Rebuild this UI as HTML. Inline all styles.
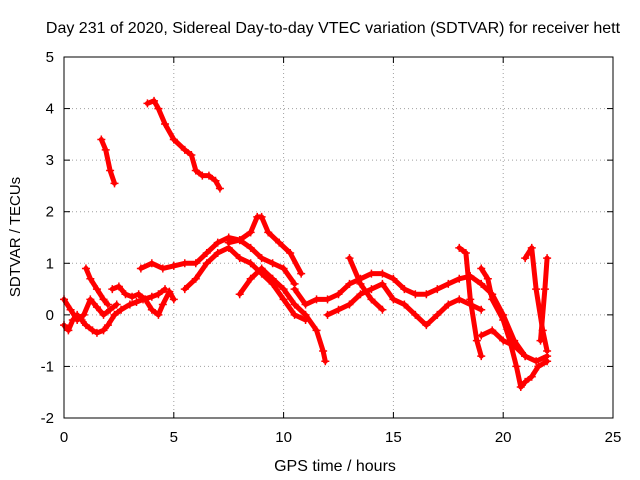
<!DOCTYPE html>
<html><head><meta charset="utf-8"><style>
html,body{margin:0;padding:0;background:#fff;}
svg{display:block;font-family:"Liberation Sans",sans-serif;}
</style></head><body>
<svg id="chart" width="640" height="480">
<rect width="640" height="480" fill="#fff"/>
<g id="grid"></g>
<g id="axes"></g>
<g id="marks"></g>
<rect x="64" y="57" width="549" height="361" fill="none" stroke="#000" stroke-width="1"/>
<text x="333" y="33" text-anchor="middle" font-size="16" fill="#000">Day 231 of 2020, Sidereal Day-to-day VTEC variation (SDTVAR) for receiver hett</text>
<text x="335" y="471" text-anchor="middle" font-size="16" fill="#000">GPS time / hours</text>
<text transform="translate(20,237) rotate(-90)" text-anchor="middle" font-size="15" fill="#000">SDTVAR / TECUs</text>
</svg>
<script>
const xTicks=[0,5,10,15,20,25];
const yTicks=[-2,-1,0,1,2,3,4,5];
const tracks=[
[[0,-0.2],[0.2,-0.3],[0.4,-0.1],[0.6,0.0],[0.8,-0.1],[1.0,-0.2],[1.3,-0.3],[1.5,-0.35],[1.8,-0.3],[2.0,-0.2],[2.3,0.0],[2.6,0.1],[3,0.2],[3.3,0.25],[3.6,0.3],[4,0.35],[4.3,0.4],[4.6,0.5]],
[[0,0.3],[0.3,0.1],[0.6,-0.1],[0.9,0.0],[1.2,0.3],[1.5,0.15],[1.8,0.0],[2.1,0.1],[2.4,0.2]],
[[1,0.9],[1.2,0.7],[1.5,0.5],[1.8,0.3],[2,0.2]],
[[2.2,0.5],[2.5,0.55],[2.8,0.4],[3.1,0.35],[3.4,0.4],[3.7,0.3],[4,0.1],[4.3,0.0],[4.5,0.2],[4.8,0.45],[5,0.3]],
[[3.5,0.9],[4,1.0],[4.5,0.9],[5,0.95],[5.5,1.0],[6,1.0],[6.5,1.2],[7,1.4],[7.5,1.5],[8,1.45],[8.5,1.3],[9,1.1],[9.5,1.0],[10,0.9],[10.5,0.6]],
[[5.5,0.5],[6,0.7],[6.5,1.0],[7,1.2],[7.5,1.3],[8,1.1],[8.5,1.0],[9,0.8],[9.5,0.6],[10,0.3],[10.5,0.0],[11,-0.1]],
[[7.5,1.4],[8,1.45],[8.5,1.6],[8.8,1.9],[9,1.9],[9.3,1.6],[9.8,1.4],[10.3,1.2],[10.8,0.8]],
[[8,0.4],[8.5,0.7],[9,0.9],[9.5,0.7],[10,0.5],[10.5,0.2],[11,0.0],[11.5,-0.3],[11.8,-0.7],[11.9,-0.9]],
[[10.5,0.5],[11,0.2],[11.5,0.3],[12,0.3],[12.5,0.4],[13,0.6],[13.5,0.7],[14,0.8],[14.5,0.8],[15,0.7],[15.5,0.5],[16,0.4],[16.5,0.4],[17,0.5],[17.5,0.6],[18,0.7],[18.5,0.75],[19,0.6],[19.5,0.4],[20,0.0],[20.5,-0.5],[21,-0.8],[21.5,-0.9],[22,-0.8]],
[[12,0.0],[12.5,0.1],[13,0.2],[13.5,0.4],[14,0.5],[14.5,0.6],[15,0.3],[15.5,0.2],[16,0.0],[16.5,-0.2],[17,0.0],[17.5,0.2],[18,0.3],[18.5,0.2],[19,0.1]],
[[13,1.1],[13.5,0.6],[14,0.3],[14.5,0.1]],
[[18,1.3],[18.3,1.2],[18.5,0.3],[18.8,-0.5],[19,-0.8]],
[[19,0.9],[19.3,0.7],[19.5,0.3],[20,-0.1],[20.3,-0.5],[20.6,-1.0],[20.8,-1.4],[21,-1.3],[21.3,-1.2],[21.6,-1.0],[22,-0.9]],
[[19,-0.4],[19.5,-0.3],[20,-0.5],[20.5,-0.6],[21,-0.8]],
[[21,1.1],[21.3,1.3],[21.5,0.5],[21.8,-0.3],[22,-0.7]],
[[21.7,-0.5],[21.9,0.5],[22,1.1]],
[[1.7,3.4],[1.9,3.2],[2.1,2.8],[2.3,2.55]],
[[3.8,4.1],[4.1,4.15],[4.3,4.0],[4.6,3.7],[5,3.4],[5.5,3.2],[5.8,3.1],[6,2.8],[6.3,2.7],[6.6,2.7],[6.9,2.6],[7.1,2.45]]
];
const NS='http://www.w3.org/2000/svg';
const X0=64,X1=613,Y0=418,Y1=57;
function sx(v){return X0+(v-0)/(25-0)*(X1-X0);}
function sy(v){return Y0-(v+2)/(5+2)*(Y0-Y1);}
function mk(t,a,p){const e=document.createElementNS(NS,t);for(const k in a)e.setAttribute(k,a[k]);p.appendChild(e);return e;}
const grid=document.getElementById('grid'),axes=document.getElementById('axes'),marks=document.getElementById('marks');
xTicks.forEach(t=>{
 const x=sx(t);
 if(t>0&&t<25){const l=mk('line',{x1:x,y1:Y0,x2:x,y2:Y1,stroke:'#a0a0a0','stroke-dasharray':'1,3'},grid);
 
 }
 mk('line',{x1:x,y1:Y0,x2:x,y2:Y0-6,stroke:'#000'},axes);
 mk('line',{x1:x,y1:Y1,x2:x,y2:Y1+6,stroke:'#000'},axes);
 const tx=mk('text',{x:x,y:Y0+24,'text-anchor':'middle','font-size':'15'},axes);
 tx.textContent=t;
 
 
});
yTicks.forEach(t=>{
 const y=sy(t);
 if(t>-2&&t<5){const l=mk('line',{x1:X0,y1:y,x2:X1,y2:y,stroke:'#a0a0a0','stroke-dasharray':'1,3'},grid);
 
 }
 mk('line',{x1:X0,y1:y,x2:X0+6,y2:y,stroke:'#000'},axes);
 mk('line',{x1:X1,y1:y,x2:X1-6,y2:y,stroke:'#000'},axes);
 const tx=mk('text',{x:X0-10,y:y+5,'text-anchor':'end','font-size':'15'},axes);
 tx.textContent=t;
 
 
});
tracks.forEach(tr=>{
 const pts=tr.map(p=>sx(p[0]).toFixed(1)+','+sy(p[1]).toFixed(1)).join(' ');
 const pl=mk('polyline',{points:pts,fill:'none',stroke:'#ff0000','stroke-width':'5','stroke-linejoin':'round','stroke-linecap':'round'},marks);
 
 
 tr.forEach(p=>{
  const x=sx(p[0]),y=sy(p[1]);
  const m=mk('path',{d:`M${x-4},${y}H${x+4}M${x},${y-4}V${y+4}`,stroke:'#ff0000','stroke-width':'1.5'},marks);
  
  
 });
});
</script>
</body></html>
